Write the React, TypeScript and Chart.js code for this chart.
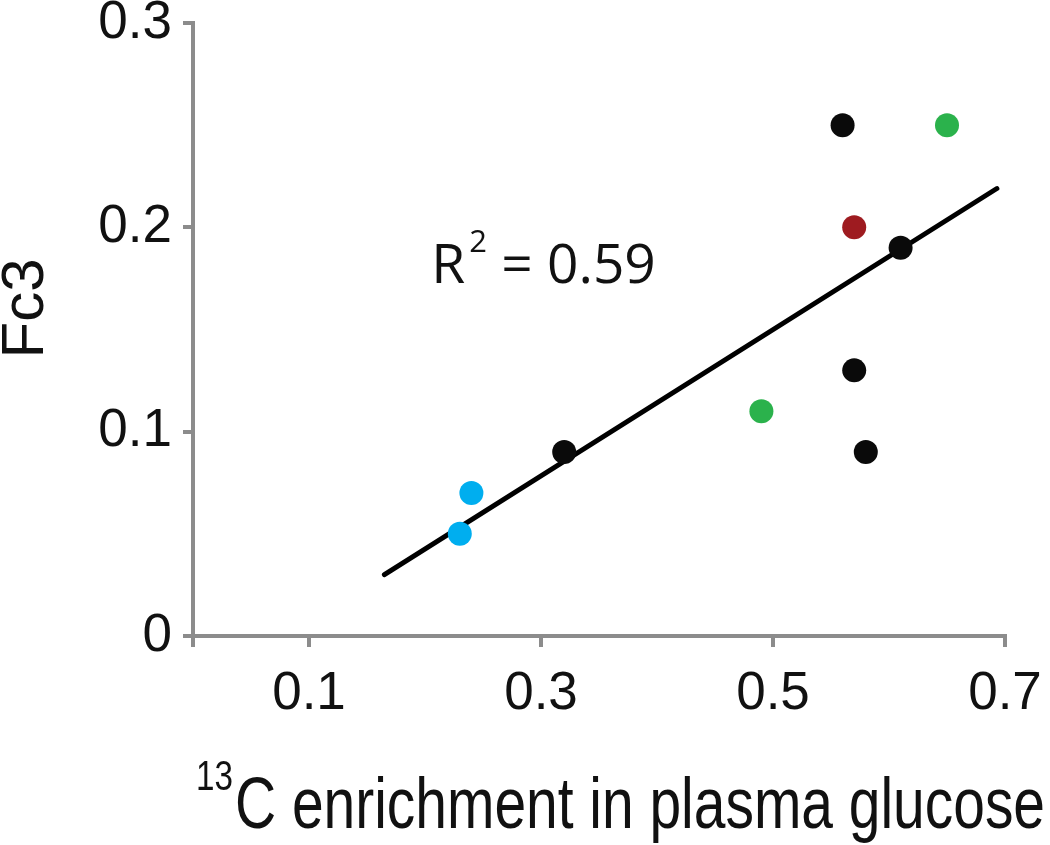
import React, { useEffect, useRef } from 'react';
import { Chart, registerables } from 'chart.js';

Chart.register(...registerables);

// ---- data ----
const blackX = [0.32, 0.56, 0.57, 0.58, 0.61];
const blackY = [0.09, 0.25, 0.13, 0.09, 0.19];
const blueX = [0.23, 0.24];
const blueY = [0.05, 0.07];
const greenX = [0.49, 0.65];
const greenY = [0.11, 0.25];
const redX = [0.57];
const redY = [0.2];
const trendX = [0.165, 0.693];
const trendY = [0.03, 0.219];

const xTickValues = [0, 0.1, 0.3, 0.5, 0.7];
const xTickLabels = ['', '0.1', '0.3', '0.5', '0.7'];
const yTickValues = [0, 0.1, 0.2, 0.3];
const yTickLabels = ['0', '0.1', '0.2', '0.3'];

const xTitleSup = '13';
const xTitleMain = 'C enrichment in plasma glucose';
const yTitle = 'Fc3';
const rLabel = 'R';
const rSup = '2';
const rValue = '= 0.59';
const annotX = 0.208;
const annotY = 0.173;

const pts = (xs: number[], ys: number[]) => xs.map((x, i) => ({ x, y: ys[i] }));

const AXIS = '#8c8c8c';
const TEXT = '#111111';

const titlesPlugin = {
  id: 'titlesPlugin',
  afterDraw(chart: any) {
    const ctx = chart.ctx as CanvasRenderingContext2D;
    const { top, bottom, right } = chart.chartArea;
    const xs = chart.scales.x;
    const ys = chart.scales.y;
    ctx.save();
    ctx.fillStyle = TEXT;

    // y title
    ctx.save();
    ctx.translate(26, (top + bottom) / 2 - 21);
    ctx.rotate(-Math.PI / 2);
    ctx.textAlign = 'center';
    ctx.textBaseline = 'middle';
    ctx.font = '60px "Liberation Sans", Arial, sans-serif';
    ctx.fillText(yTitle, 0, 0);
    ctx.restore();

    // x title
    ctx.save();
    ctx.font = '72px "Liberation Sans Narrow", "Liberation Sans", Arial, sans-serif';
    ctx.textBaseline = 'alphabetic';
    ctx.textAlign = 'left';
    const mainW = ctx.measureText(xTitleMain).width;
    const targetW = 810;
    const sx = targetW / mainW;
    const endX = right + 40;
    const startX = endX - targetW;
    const baseY = bottom + 192;
    ctx.save();
    ctx.translate(startX, baseY);
    ctx.scale(sx, 1);
    ctx.fillText(xTitleMain, 0, 0);
    ctx.restore();
    ctx.save();
    ctx.font = '42px "Liberation Sans Narrow", "Liberation Sans", Arial, sans-serif';
    const supW = ctx.measureText(xTitleSup).width;
    ctx.translate(startX - 2 - supW * sx, baseY - 38);
    ctx.scale(sx, 1);
    ctx.fillText(xTitleSup, 0, 0);
    ctx.restore();
    ctx.restore();

    // R^2 annotation
    const ax = xs.getPixelForValue(annotX);
    const ay = ys.getPixelForValue(annotY);
    ctx.textAlign = 'left';
    ctx.textBaseline = 'alphabetic';
    ctx.font = '55px "Open Sans", "Noto Sans", sans-serif';
    ctx.fillText(rLabel, ax - 3, ay);
    ctx.font = '31px "Open Sans", "Noto Sans", sans-serif';
    ctx.fillText(rSup, ax + 35, ay - 31);
    ctx.font = '55px "Open Sans", "Noto Sans", sans-serif';
    ctx.fillText(rValue, ax + 67, ay);
    ctx.restore();
  },
};

export default function App() {
  const ref = useRef<HTMLCanvasElement | null>(null);

  useEffect(() => {
    if (!ref.current) return;
    const pointDs = (label: string, xs: number[], ys: number[], color: string) => ({
      type: 'scatter' as const,
      label,
      data: pts(xs, ys),
      backgroundColor: color,
      borderColor: color,
      pointRadius: 12,
      pointBorderWidth: 0,
      pointHoverRadius: 12,
      order: 1,
    });
    const chart = new Chart(ref.current, {
      type: 'scatter',
      data: {
        datasets: [
          pointDs('black', blackX, blackY, '#0a0a0a'),
          pointDs('blue', blueX, blueY, '#00aeef'),
          pointDs('green', greenX, greenY, '#2bb24c'),
          pointDs('red', redX, redY, '#9e1b20'),
          {
            type: 'line' as const,
            label: 'trend',
            data: pts(trendX, trendY),
            borderColor: '#000000',
            borderWidth: 5,
            borderCapStyle: 'round',
            pointRadius: 0,
            showLine: true,
            fill: false,
            order: 2,
          } as any,
        ],
      },
      options: {
        animation: false,
        responsive: false,
        devicePixelRatio: 1,
        layout: { padding: { left: 0, right: 45, top: 23, bottom: 0 } },
        plugins: { legend: { display: false }, tooltip: { enabled: false } },
        scales: {
          x: {
            type: 'linear',
            min: 0,
            max: 0.7,
            afterBuildTicks: (s: any) => {
              s.ticks = xTickValues.map((v) => ({ value: v }));
            },
            afterFit: (s: any) => {
              s.height = 209;
              s.paddingLeft = 0;
              s.paddingRight = 0;
            },
            ticks: {
              autoSkip: false,
              maxRotation: 0,
              padding: 16,
              color: TEXT,
              font: { family: '"Liberation Sans", Arial, sans-serif', size: 53 },
              callback: (v: any) => {
                const i = xTickValues.findIndex((t) => Math.abs(t - Number(v)) < 1e-9);
                return i >= 0 ? xTickLabels[i] : '';
              },
            },
            grid: { drawOnChartArea: false, drawTicks: true, tickLength: 11, color: AXIS, lineWidth: 4 },
            border: { display: true, color: AXIS, width: 4 },
          },
          y: {
            type: 'linear',
            min: 0,
            max: 0.3,
            afterBuildTicks: (s: any) => {
              s.ticks = yTickValues.map((v) => ({ value: v }));
            },
            afterFit: (s: any) => {
              s.width = 193;
              s.paddingTop = 0;
              s.paddingBottom = 0;
            },
            ticks: {
              padding: 11,
              color: TEXT,
              font: { family: '"Liberation Sans", Arial, sans-serif', size: 53 },
              callback: (v: any) => {
                const i = yTickValues.findIndex((t) => Math.abs(t - Number(v)) < 1e-9);
                return i >= 0 ? yTickLabels[i] : '';
              },
            },
            grid: { drawOnChartArea: false, drawTicks: true, tickLength: 10, color: AXIS, lineWidth: 4 },
            border: { display: true, color: AXIS, width: 4 },
          },
        },
      },
      plugins: [titlesPlugin],
    } as any);
    return () => chart.destroy();
  }, []);

  return (
    <div style={{ position: 'absolute', left: 0, top: 0, width: 1050, height: 845, background: '#fff' }}>
      <canvas ref={ref} width={1050} height={845} style={{ width: 1050, height: 845, display: 'block' }} />
    </div>
  );
}
